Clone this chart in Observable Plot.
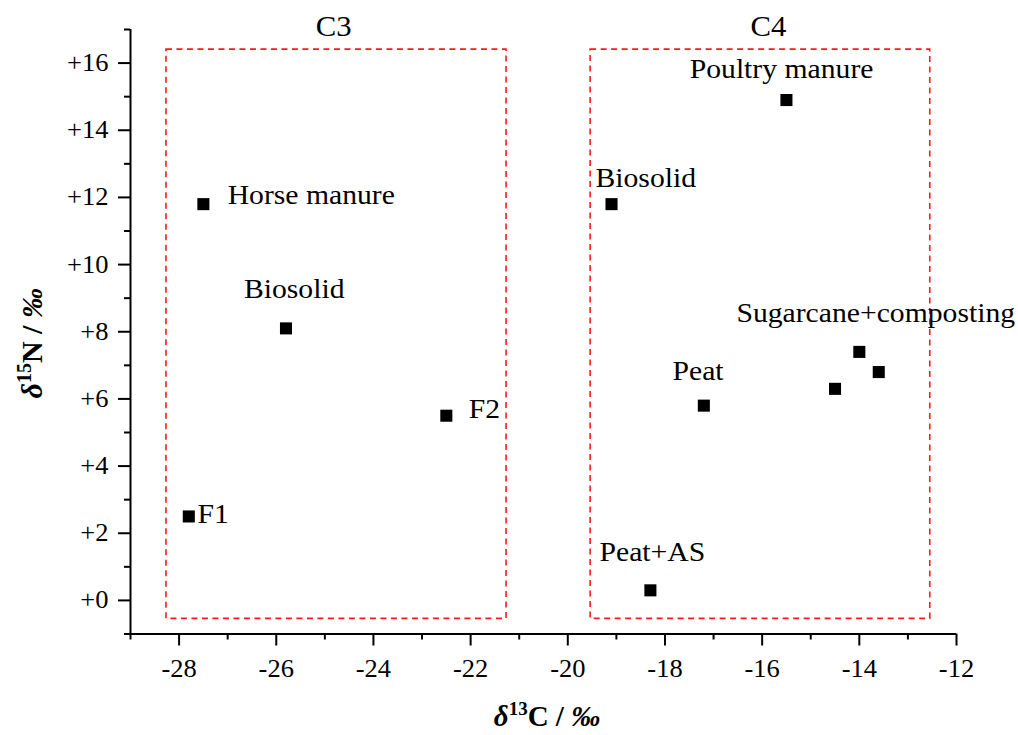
<!DOCTYPE html>
<html>
<head>
<meta charset="utf-8">
<script src="https://cdn.jsdelivr.net/npm/d3@7"></script>
<script src="https://cdn.jsdelivr.net/npm/@observablehq/plot@0.6"></script>
<style>
  html, body { margin: 0; padding: 0; background: #fff; }
  svg { display: block; }
</style>
</head>
<body>
<div id="chart"></div>
<script>
// ---- data ----
const sampleNames = ["Horse manure", "Biosolid (C3)", "F2", "F1", "Poultry manure", "Biosolid (C4)", "Peat", "Peat+AS", "Sugarcane+composting a", "Sugarcane+composting b", "Sugarcane+composting c"];
const d13C = [-27.5, -25.8, -22.5, -27.8, -15.5, -19.1, -17.2, -18.3, -14.0, -13.6, -14.5];
const d15N = [11.8, 8.1, 5.5, 2.5, 14.9, 11.8, 5.8, 0.3, 7.4, 6.8, 6.3];

const labelText = ["Horse manure", "Biosolid", "F2", "F1", "Poultry manure", "Biosolid", "Peat", "Peat+AS", "Sugarcane+composting"];
const labelX = [-27.0, -25.63, -22.04, -27.62, -15.60, -19.43, -17.32, -18.26, -16.53];
const labelY = [12.08, 9.26, 5.69, 2.56, 15.81, 12.57, 6.84, 1.44, 8.55];
const labelAnchor = ["start", "middle", "start", "start", "middle", "start", "middle", "middle", "start"];

const groupNames = ["C3", "C4"];
const groupX1 = [-28.26, -19.53];
const groupX2 = [-21.26, -12.54];
const groupY1 = [-0.55, -0.55];
const groupY2 = [16.4, 16.4];
const groupLabelX = [-24.82, -15.87];
const groupLabelY = [17.07, 17.07];

const xMajorTicks = [-28, -26, -24, -22, -20, -18, -16, -14, -12];
const xMinorTicks = [-29, -27, -25, -23, -21, -19, -17, -15, -13];
const yMajorTicks = [0, 2, 4, 6, 8, 10, 12, 14, 16];
const yMinorTicks = [-1, 1, 3, 5, 7, 9, 11, 13, 15, 17];
const xDomain = [-29, -12];
const yDomain = [-1, 17];

// ---- tables ----
const points = sampleNames.map((n, i) => ({name: n, x: d13C[i], y: d15N[i]}));
const labels = labelText.map((t, i) => ({text: t, x: labelX[i], y: labelY[i], anchor: labelAnchor[i]}));
const groups = groupNames.map((g, i) => ({name: g, x1: groupX1[i], x2: groupX2[i], y1: groupY1[i], y2: groupY2[i], lx: groupLabelX[i], ly: groupLabelY[i]}));

const FONT = "'Liberation Serif', 'Times New Roman', serif";

const plot = Plot.plot({
  width: 1018,
  height: 735,
  marginLeft: 130,
  marginRight: 62,
  marginTop: 29,
  marginBottom: 101.5,
  style: {fontFamily: FONT, background: "#fff", color: "#000", overflow: "visible"},
  x: {domain: xDomain, label: null},
  y: {domain: yDomain, label: null},
  marks: [
    Plot.rect(groups, {x1: "x1", x2: "x2", y1: "y1", y2: "y2", fill: "none", stroke: "#ff1a1a", strokeWidth: 1.6, strokeDasharray: "6,4.5"}),
    Plot.text(groups, {x: "lx", y: "ly", text: "name", fontSize: 29, fontFamily: FONT, fill: "#000", textAnchor: "middle"}),
    Plot.axisX(xMinorTicks, {tickSize: 6, strokeWidth: 2, tickFormat: () => "", label: null}),
    Plot.axisX(xMajorTicks, {tickSize: 12, strokeWidth: 2, tickPadding: 13, fontSize: 25, tickFormat: d => String(d), label: null}),
    Plot.axisY(yMinorTicks, {tickSize: 6, strokeWidth: 2, tickFormat: () => "", label: null}),
    Plot.axisY(yMajorTicks, {tickSize: 12, strokeWidth: 2, tickPadding: 10, fontSize: 25, tickFormat: d => "+" + d, label: null}),
    Plot.ruleX([xDomain[0]], {y1: yDomain[0], y2: yDomain[1], strokeWidth: 2, stroke: "#000"}),
    Plot.ruleY([yDomain[0]], {x1: xDomain[0], x2: xDomain[1], strokeWidth: 2, stroke: "#000"}),
    Plot.dot(points, {x: "x", y: "y", symbol: "square", r: 6.8, fill: "#000"}),
    Plot.text(labels, {x: "x", y: "y", text: "text", textAnchor: "start", filter: d => d.anchor === "start", fontSize: 28, fontFamily: FONT, fill: "#000"}),
    Plot.text(labels, {x: "x", y: "y", text: "text", textAnchor: "middle", filter: d => d.anchor === "middle", fontSize: 28, fontFamily: FONT, fill: "#000"})
  ]
});

document.getElementById("chart").appendChild(plot);

// the reference's glyphs are slightly wider than their height suggests: widen them a little,
// keeping each text's own transform and anchoring the stretch at its anchor edge
plot.querySelectorAll("text").forEach(el => {
  if (!el.textContent) return;
  const anchor = getComputedStyle(el).textAnchor;
  const b = el.getBBox();
  const ox = anchor === "start" ? b.x : anchor === "end" ? b.x + b.width : b.x + b.width / 2;
  const prev = el.getAttribute("transform") || "";
  el.setAttribute("transform", `${prev} translate(${ox},0) scale(1.06,1) translate(${-ox},0)`.trim());
});

// axis titles with rich text
const svg = d3.select(plot);
const xr = plot.scale("x").range;
const yr = plot.scale("y").range;
const xc = (xr[0] + xr[1]) / 2;
const yc = (yr[0] + yr[1]) / 2;

const xl = svg.append("text")
  .attr("x", xc + 4).attr("y", Math.max(yr[0], yr[1]) + 92.5)
  .attr("text-anchor", "middle")
  .attr("font-family", FONT).attr("font-size", 29).attr("font-weight", "bold").attr("fill", "#000");
xl.append("tspan").attr("font-style", "italic").text("δ");
xl.append("tspan").attr("font-size", 19).attr("dy", -11).text("13");
xl.append("tspan").attr("dy", 11).text("C / ");
xl.append("tspan").attr("font-style", "italic").text("‰");

const yl = svg.append("text")
  .attr("transform", `translate(${xr[0] - 88},${yc + 12}) rotate(-90)`)
  .attr("text-anchor", "middle")
  .attr("font-family", FONT).attr("font-size", 30).attr("font-weight", "bold").attr("fill", "#000");
yl.append("tspan").attr("font-style", "italic").text("δ");
yl.append("tspan").attr("font-size", 20).attr("dy", -11).text("15");
yl.append("tspan").attr("dy", 11).text("N / ");
yl.append("tspan").attr("font-style", "italic").text("‰");
</script>
</body>
</html>
